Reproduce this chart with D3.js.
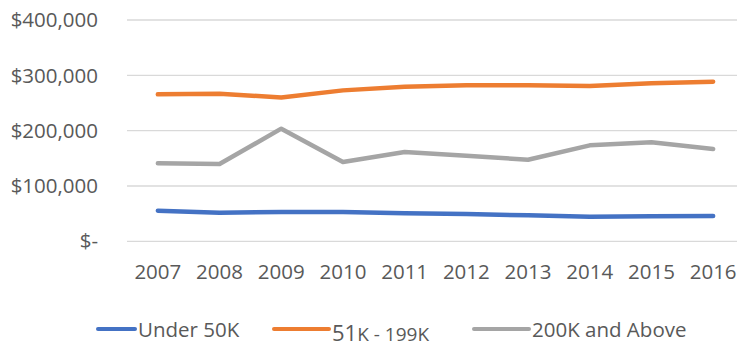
<!DOCTYPE html>
<html>
<head>
<meta charset="utf-8">
<script src="https://cdn.jsdelivr.net/npm/d3@7"></script>
<style>
  html, body { margin: 0; padding: 0; background: #fff; }
  svg text { font-family: "Open Sans", sans-serif; fill: #595959; }
</style>
</head>
<body>
<svg id="chart" width="737" height="347"></svg>
<script>
/************************
*** DECLARE VARIABLES ***
************************/

const years = ["2007", "2008", "2009", "2010", "2011", "2012", "2013", "2014", "2015", "2016"];
const under50k = [55300, 51700, 52900, 52900, 50500, 49300, 46900, 44500, 45100, 45700];
const mid51to199k = [265600, 266800, 260000, 272800, 279500, 281900, 282000, 280700, 285500, 288500];
const over200k = [140900, 139600, 203600, 143300, 161400, 154700, 147500, 173400, 178900, 166800];
const yTicks = [0, 100000, 200000, 300000, 400000];

const seriesNames = ["Under 50K", "51K - 199K", "200K and Above"];
const seriesCols = ["#4472C4", "#ED7D31", "#A5A5A5"];

const W = 737, H = 347;
const plot = {left: 127, right: 744, top: 20, bottom: 241.3};

var svg = d3.select("#chart");



/*****************
*** SCALES ***
*****************/

var x = d3.scaleBand()
  .domain(years)
  .range([plot.left, plot.right])
  .padding(0);

var y = d3.scaleLinear()
  .domain([0, 400000])
  .range([plot.bottom, plot.top]);

function fmtMoney(v) {
  //excel style accounting format, zero shows as a dash
  if (v == 0) return "$-";
  return "$" + d3.format(",")(v);
};



/*******************
*** GRID + AXES ***
*******************/

svg.append("g")
  .selectAll("line")
  .data(yTicks)
  .enter()
  .append("line")
    .attr("x1", plot.left)
    .attr("x2", plot.right)
    .attr("y1", function(d) { return y(d); })
    .attr("y2", function(d) { return y(d); })
    .attr("stroke", "#D9D9D9")
    .attr("stroke-width", 1.3);

svg.append("g")
  .selectAll("text")
  .data(yTicks)
  .enter()
  .append("text")
    .attr("x", 98)
    .attr("y", function(d) { return y(d); })
    .attr("dy", "0.35em")
    .attr("text-anchor", "end")
    .style("font-size", "20.5px")
    .text(fmtMoney);

svg.append("g")
  .selectAll("text")
  .data(years)
  .enter()
  .append("text")
    .attr("x", function(d) { return x(d) + x.bandwidth() / 2; })
    .attr("y", 279)
    .attr("text-anchor", "middle")
    .style("font-size", "20.5px")
    .text(function(d) { return d; });



/*****************
*** LINES ***
*****************/

var allSeries = [under50k, mid51to199k, over200k];

var line = d3.line()
  .x(function(d, i) { return x(years[i]) + x.bandwidth() / 2; })
  .y(function(d) { return y(d); });

svg.append("g")
  .selectAll("path")
  .data(allSeries)
  .enter()
  .append("path")
    .attr("d", line)
    .attr("fill", "none")
    .attr("stroke", function(d, i) { return seriesCols[i]; })
    .attr("stroke-width", 4.5)
    .attr("stroke-linecap", "round")
    .attr("stroke-linejoin", "round");



/*****************
*** LEGEND ***
*****************/

//hand placed like the excel legend, line + label per entry
const legX = [98, 274, 474];
const legY = 329;

var leg = svg.append("g")
  .selectAll("g")
  .data(seriesNames)
  .enter()
  .append("g")
    .attr("transform", function(d, i) { return "translate(" + legX[i] + "," + legY + ")"; });

leg.append("line")
  .attr("x1", 0)
  .attr("x2", function(d, i) { return i == 0 ? 37 : 55; })
  .attr("stroke", function(d, i) { return seriesCols[i]; })
  .attr("stroke-width", 4)
  .attr("stroke-linecap", "round");

leg.each(function(d, i) {
  var t = d3.select(this).append("text")
    .attr("x", i == 0 ? 40 : 58)
    .style("font-size", "20.5px");

  if (i == 1) {
    //middle label has the bigger "51" and sits a bit lower
    t.attr("y", 11.5);
    t.append("tspan").style("font-size", "22px").text("51");
    t.append("tspan").style("font-size", "19px").text("K - 199K");
  } else {
    t.attr("y", 8).text(d);
  }
});
</script>
</body>
</html>
